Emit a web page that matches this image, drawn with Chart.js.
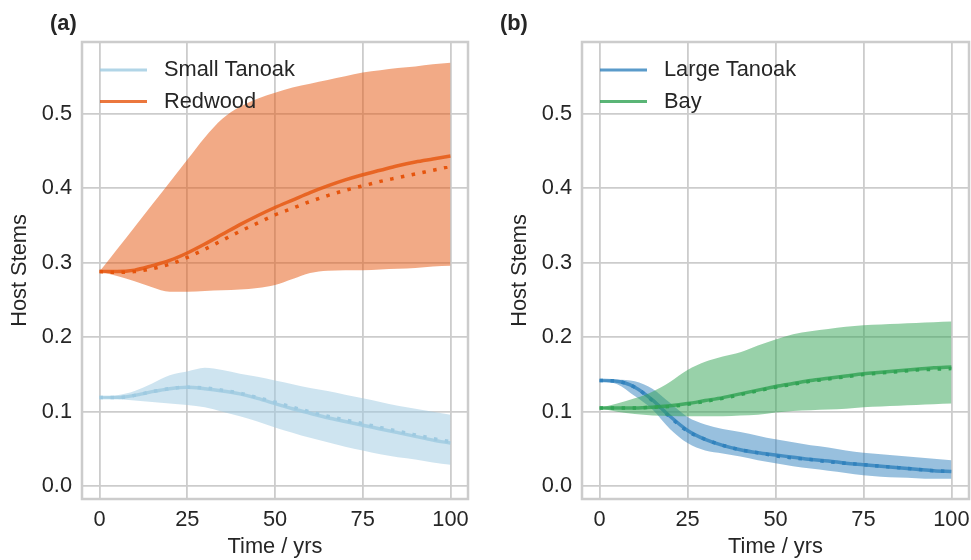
<!DOCTYPE html>
<html>
<head>
<meta charset="utf-8">
<script src="https://cdn.jsdelivr.net/npm/chart.js@4.4.1/dist/chart.umd.min.js"></script>
<style>
  html, body { margin: 0; padding: 0; background: #fff; }
  body { width: 971px; height: 560px; position: relative; overflow: hidden; }
  canvas { position: absolute; top: 0; }
  #chartA { left: 0; }
  #chartB { left: 500px; }
</style>
</head>
<body>
<canvas id="chartA" width="485" height="560"></canvas>
<canvas id="chartB" width="471" height="560"></canvas>
<script>
// time axis, 5 year steps
const years = [0, 5, 10, 15, 20, 25, 30, 35, 40, 45, 50, 55, 60, 65, 70, 75, 80, 85, 90, 95, 100];
const xTicks = [0, 25, 50, 75, 100];
const yTicks = [0, 0.1, 0.2, 0.3, 0.4, 0.5];

// (a) Small Tanoak
const smallMean   = [.119, .119, .122, .127, .131, .133, .131, .128, .124, .118, .111, .104, .098, .092, .087, .082, .077, .072, .067, .062, .058];
const smallDotted = [.119, .119, .122, .127, .131, .133, .132, .129, .125, .119, .113, .106, .100, .094, .089, .084, .079, .074, .069, .064, .060];
const smallUpper  = [.119, .122, .128, .138, .149, .154, .159, .156, .151, .147, .142, .137, .132, .128, .123, .118, .113, .108, .104, .100, .096];
const smallLower  = [.119, .117, .115, .113, .111, .109, .106, .100, .094, .087, .079, .072, .065, .059, .053, .048, .043, .039, .036, .032, .029];

// (a) Redwood
const redMean   = [.288, .288, .290, .296, .303, .313, .325, .338, .351, .363, .374, .384, .394, .403, .411, .418, .424, .430, .435, .439, .443];
const redDotted = [.288, .287, .288, .292, .298, .307, .318, .330, .342, .353, .364, .373, .382, .390, .397, .403, .409, .414, .419, .424, .429];
const redUpper  = [.288, .318, .348, .378, .408, .438, .468, .493, .509, .520, .528, .535, .540, .545, .550, .555, .558, .561, .563, .566, .568];
const redLower  = [.288, .282, .275, .267, .261, .261, .262, .263, .264, .266, .270, .278, .286, .289, .290, .290, .291, .292, .293, .295, .296];

// (b) Large Tanoak
const largeMean   = [.142, .141, .133, .116, .094, .075, .063, .055, .049, .045, .042, .039, .036, .034, .031, .029, .027, .025, .023, .021, .020];
const largeDotted = [.142, .141, .133, .115, .093, .074, .063, .055, .049, .045, .041, .038, .036, .033, .031, .029, .027, .025, .023, .021, .020];
const largeUpper  = [.143, .143, .141, .131, .112, .093, .083, .077, .073, .068, .063, .059, .055, .052, .048, .045, .043, .041, .039, .037, .035];
const largeLower  = [.141, .137, .121, .103, .077, .058, .048, .044, .040, .035, .031, .027, .024, .021, .018, .015, .013, .012, .011, .010, .010];

// (b) Bay
const bayMean   = [.105, .105, .105, .106, .108, .111, .115, .119, .124, .129, .134, .138, .142, .145, .148, .151, .153, .155, .157, .159, .160];
const bayDotted = [.105, .105, .105, .106, .107, .110, .114, .118, .123, .128, .133, .137, .141, .144, .147, .150, .152, .154, .156, .157, .158];
const bayUpper  = [.105, .111, .118, .127, .140, .156, .167, .174, .180, .189, .197, .204, .208, .211, .214, .216, .217, .218, .219, .220, .221];
const bayLower  = [.105, .100, .097, .095, .0945, .094, .094, .094, .095, .096, .099, .101, .102, .103, .104, .106, .107, .108, .109, .110, .111];

const FONT = '"Liberation Sans", Arial, Helvetica, sans-serif';
const FSIZE = 21.8;
const TEXT = '#262626';
const GRID = '#cccccc';

function rgba(hex, a) {
    const n = parseInt(hex.slice(1), 16);
    return `rgba(${(n >> 16) & 255}, ${(n >> 8) & 255}, ${n & 255}, ${a})`;
}

function pts(arr) {
    return years.map((t, i) => ({ x: t, y: arr[i] }));
}

function seriesDatasets(s) {
    const base = { pointRadius: 0, cubicInterpolationMode: 'monotone', fill: false };
    return [
        { ...base, label: s.label + ' band', data: pts(s.upper), borderWidth: 0,
          borderColor: 'rgba(0,0,0,0)', backgroundColor: rgba(s.color, 0.5), fill: '+1' },
        { ...base, label: s.label + ' low', data: pts(s.lower), borderWidth: 0, borderColor: 'rgba(0,0,0,0)' },
        { ...base, label: s.label, data: pts(s.mean), borderWidth: 3.5, borderColor: rgba(s.color, 0.8) },
        { ...base, label: s.label + ' dotted', data: pts(s.dotted), borderWidth: 3.5,
          borderColor: s.color, borderDash: [3.5, 7.5], borderCapStyle: 'butt' }
    ];
}

// frame, legend inside the axes and the panel letter
const decor = {
    id: 'decor',
    afterDatasetsDraw(chart, args, opts) {
        const { ctx, chartArea: a } = chart;
        ctx.save();
        ctx.strokeStyle = GRID;
        ctx.lineWidth = 2.5;
        ctx.strokeRect(a.left, a.top, a.right - a.left, a.bottom - a.top);

        ctx.font = `${FSIZE}px ${FONT}`;
        ctx.textBaseline = 'middle';
        opts.items.forEach((it, i) => {
            const y = a.top + 28 + i * 31.6;
            ctx.strokeStyle = rgba(it.color, 0.8);
            ctx.lineWidth = 3;
            ctx.beginPath();
            ctx.moveTo(a.left + 18, y);
            ctx.lineTo(a.left + 65, y);
            ctx.stroke();
            ctx.fillStyle = TEXT;
            ctx.fillText(it.label, a.left + 82, y);
        });

        ctx.font = `bold ${FSIZE}px ${FONT}`;
        ctx.textBaseline = 'alphabetic';
        ctx.fillStyle = TEXT;
        ctx.fillText(opts.panel, opts.panelX, 30);
        ctx.restore();
    }
};

function makeChart(id, series, panel, panelX, rightPad) {
    let datasets = [];
    series.forEach(s => { datasets = datasets.concat(seriesDatasets(s)); });
    datasets.forEach((d, i) => { d.order = 100 - i; });

    const tickFont = { family: FONT, size: FSIZE };
    return new Chart(document.getElementById(id), {
        type: 'line',
        data: { datasets: datasets },
        plugins: [decor],
        options: {
            responsive: false,
            devicePixelRatio: 1,
            animation: false,
            layout: { padding: { top: 42, right: rightPad, left: 0, bottom: 0 } },
            scales: {
                x: {
                    type: 'linear',
                    min: -5,
                    max: 105,
                    afterBuildTicks: s => { s.ticks = xTicks.map(v => ({ value: v })); },
                    afterFit: s => { s.height = 61; s.paddingLeft = 0; s.paddingRight = 0; },
                    grid: { color: GRID, lineWidth: 1.8, drawTicks: false },
                    border: { display: false },
                    ticks: { padding: 8, color: TEXT, font: tickFont, maxRotation: 0, callback: v => String(v) },
                    title: { display: true, text: 'Time / yrs', color: TEXT, font: tickFont, padding: { top: 0, bottom: 0 } }
                },
                y: {
                    min: -0.017,
                    max: 0.596,
                    afterBuildTicks: s => { s.ticks = yTicks.map(v => ({ value: v })); },
                    afterFit: s => { s.width = 82; s.paddingTop = 0; s.paddingBottom = 0; },
                    grid: { color: GRID, lineWidth: 1.8, drawTicks: false },
                    border: { display: false },
                    ticks: { padding: 10, color: TEXT, font: tickFont, callback: v => v.toFixed(1) },
                    title: { display: true, text: 'Host Stems', color: TEXT, font: tickFont, padding: { top: 7, bottom: 0 } }
                }
            },
            plugins: {
                legend: { display: false },
                tooltip: { enabled: false },
                decor: {
                    items: series.map(s => ({ label: s.label, color: s.color })),
                    panel: panel,
                    panelX: panelX
                }
            }
        }
    });
}

makeChart('chartA', [
    { label: 'Small Tanoak', color: '#9ecae1', mean: smallMean, dotted: smallDotted, upper: smallUpper, lower: smallLower },
    { label: 'Redwood', color: '#e6550d', mean: redMean, dotted: redDotted, upper: redUpper, lower: redLower }
], '(a)', 50, 17);

makeChart('chartB', [
    { label: 'Large Tanoak', color: '#3182bd', mean: largeMean, dotted: largeDotted, upper: largeUpper, lower: largeLower },
    { label: 'Bay', color: '#31a354', mean: bayMean, dotted: bayDotted, upper: bayUpper, lower: bayLower }
], '(b)', 0, 2);
</script>
</body>
</html>
